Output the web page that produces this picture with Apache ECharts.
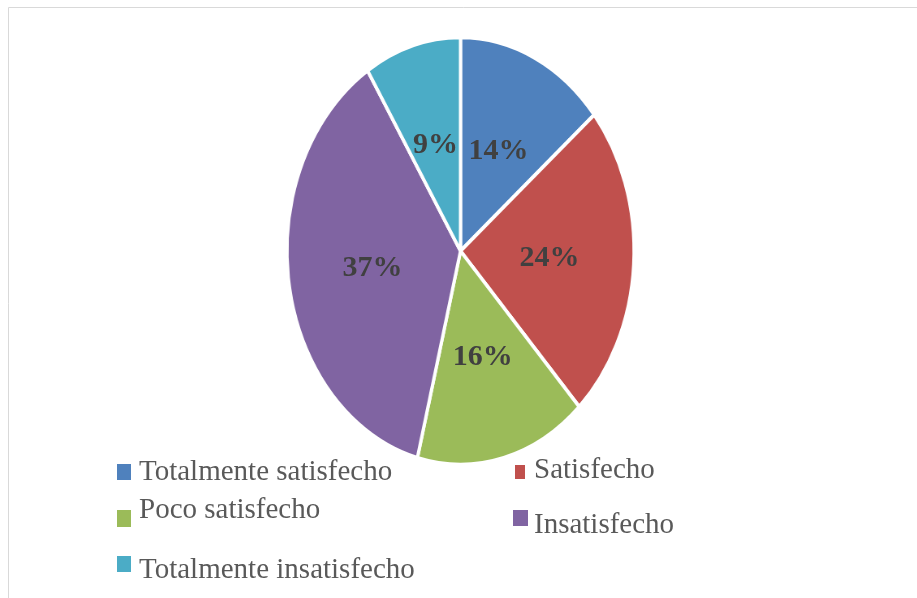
<!DOCTYPE html>
<html>
<head>
<meta charset="utf-8">
<script src="https://cdn.jsdelivr.net/npm/echarts@6/dist/echarts.min.js"></script>
<style>
  html, body { margin: 0; padding: 0; background: #fff; }
  #wrap { position: relative; width: 917px; height: 598px; overflow: hidden; }
  #pie { position: absolute; left: 0; top: 0; width: 917px; height: 598px;
         transform: scaleX(0.812); transform-origin: 460.5px 0; }
  #over { position: absolute; left: 0; top: 0; width: 917px; height: 598px; }
</style>
</head>
<body>
<div id="wrap"><div id="pie"></div><div id="over"></div></div>
<script>
// ---- data ----
const categories = ['Totalmente satisfecho', 'Satisfecho', 'Poco satisfecho', 'Insatisfecho', 'Totalmente insatisfecho'];
const values = [14, 24, 16, 37, 9];

// ---- style ----
const palette = ['#4F81BD', '#C0504D', '#9BBB59', '#8064A2', '#4BACC6'];
const CX = 460.5, CY = 251, R = 213.75, SX = 0.812;
const serif = '"Liberation Serif", "Times New Roman", serif';

const seriesData = categories.map((c, i) => ({ name: c, value: values[i] }));

// Pie drawn in a horizontally scaled container (elliptical pie)
const pie = echarts.init(document.getElementById('pie'), null, { renderer: 'canvas' });
pie.setOption({
  animation: false,
  series: [{
    type: 'pie',
    center: [CX, CY],
    radius: R,
    startAngle: 90,
    clockwise: true,
    silent: true,
    label: { show: false },
    labelLine: { show: false },
    itemStyle: { borderColor: '#ffffff', borderWidth: 4 },
    data: seriesData.map((d, i) => ({ ...d, itemStyle: { color: palette[i] } }))
  }]
});

// Legend placement (icon: left, top, w, h ; text: left, top)
const iconPlace = [
  [117, 464, 14, 16],
  [515, 465, 10, 14],
  [117, 510, 14, 17],
  [513, 510, 15, 16],
  [117, 556, 14, 16]
];
const textPlace = [
  [134, 457],
  [529, 455],
  [134, 495],
  [529, 510],
  [134, 555]
];

const iconLegends = categories.map((name, i) => {
  const [l, t, w, h] = iconPlace[i];
  return {
    left: l, top: t, padding: 0,
    itemWidth: w, itemHeight: h, icon: 'rect',
    selectedMode: false,
    data: [name],
    formatter: () => '',
    itemStyle: { color: palette[i] },
    textStyle: { fontSize: 1, lineHeight: 1 }
  };
});
const textLegends = categories.map((name, i) => {
  const [l, t] = textPlace[i];
  return {
    left: l, top: t, padding: 0,
    itemWidth: 0, itemHeight: 0, icon: 'none',
    selectedMode: false,
    data: [name],
    itemStyle: { color: 'rgba(0,0,0,0)' },
    textStyle: { fontFamily: serif, fontSize: 29, lineHeight: 30, color: '#595959' }
  };
});

const over = echarts.init(document.getElementById('over'), null, { renderer: 'canvas' });
over.setOption({
  animation: false,
  legend: iconLegends.concat(textLegends),
  graphic: [{
    type: 'rect',
    silent: true,
    shape: { x: 8.5, y: 7.5, width: 930, height: 620 },
    style: { fill: 'none', stroke: '#d9d9d9', lineWidth: 1 }
  }],
  series: [{
    type: 'pie',
    center: [CX, CY],
    radius: R,
    startAngle: 90,
    clockwise: true,
    silent: true,
    itemStyle: { color: 'rgba(0,0,0,0)', borderWidth: 0 },
    emphasis: { disabled: true },
    label: {
      show: true,
      position: 'inside',
      formatter: p => Math.round(p.percent) + '%',
      fontFamily: serif,
      fontSize: 30,
      fontWeight: 'bold',
      color: '#404040'
    },
    labelLine: { show: false },
    labelLayout: function (p) {
      const r = p.labelRect;
      return {
        x: CX + (r.x + r.width / 2 - CX) * SX,
        y: r.y + r.height / 2,
        align: 'center',
        verticalAlign: 'middle'
      };
    },
    data: seriesData
  }]
});
</script>
</body>
</html>
